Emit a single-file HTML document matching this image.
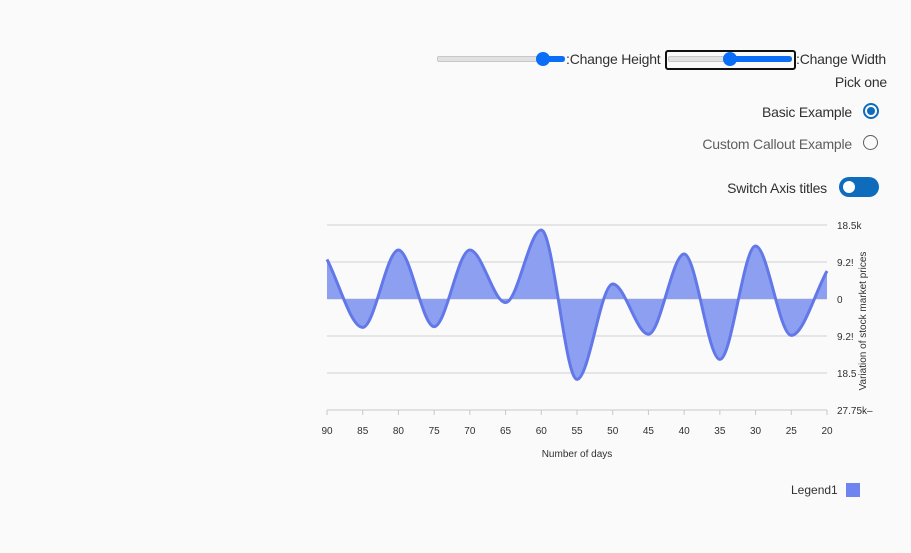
<!DOCTYPE html>
<html><head><meta charset="utf-8">
<style>
body{margin:0;width:911px;height:553px;background:#fafafa;font-family:"Segoe UI","Liberation Sans",sans-serif;color:#323130;position:relative;overflow:hidden}
.abs{position:absolute}
.lbl{font-size:14px;white-space:nowrap;letter-spacing:-0.2px}
.track{position:absolute;height:4px;border-radius:2px;background:#e1e1e1;border:1px solid #c8c8c8}
.fill{position:absolute;height:6px;border-radius:3px;background:#0b6ef6}
.thumb{position:absolute;width:14px;height:14px;border-radius:50%;background:#0b6ef6}
</style></head><body>
<div class="track" style="left:437px;top:56px;width:126px"></div>
<div class="fill" style="left:540px;top:56px;width:25px"></div>
<div class="thumb" style="left:536px;top:52px"></div>
<div class="abs lbl" style="left:566px;top:51px">:Change Height</div>
<div class="abs" style="left:665px;top:50px;width:127px;height:16px;border:2px solid #111;border-radius:3px"></div>
<div class="track" style="left:668px;top:56px;width:122px"></div>
<div class="fill" style="left:728px;top:56px;width:64px"></div>
<div class="thumb" style="left:723px;top:52px"></div>
<div class="abs lbl" style="left:796px;top:51px">:Change Width</div>
<div class="abs lbl" style="right:24px;top:74px">Pick one</div>
<div class="abs lbl" style="right:59px;top:104px">Basic Example</div>
<div class="abs" style="left:863px;top:103px;width:12px;height:12px;border:2px solid #0f6cbd;border-radius:50%"><div style="position:absolute;left:2px;top:2px;width:8px;height:8px;border-radius:50%;background:#0f6cbd"></div></div>
<div class="abs lbl" style="right:59px;top:136px;color:#605e5c">Custom Callout Example</div>
<div class="abs" style="left:863px;top:135px;width:13px;height:13px;border:1.5px solid #605e5c;border-radius:50%"></div>
<div class="abs lbl" style="right:84px;top:180px">Switch Axis titles</div>
<div class="abs" style="left:839px;top:177px;width:40px;height:20px;border-radius:10px;background:#0f6cbd"><div style="position:absolute;left:4px;top:4px;width:12px;height:12px;border-radius:50%;background:#fff"></div></div>

<svg class="abs" style="left:0;top:0" width="911" height="553" id="chart"></svg>
<div class="abs" style="left:791px;top:483px;font-size:12px">Legend1<span style="display:inline-block;width:14px;height:14px;background:#6f84ee;margin-left:8px;vertical-align:-3px"></span></div>

<script>
const xDays = [90,85,80,75,70,65,60,55,50,45,40,35,30,25,20];
const yValues = [9900,-7100,12250,-6900,12250,-900,17250,-20100,3750,-8800,11250,-15100,13250,-9100,7000];
const yTicks = [18500,9250,0,-9250,-18500,-27750];
const yTickLabels = ["18.5k","9.2!","0","9.2!","18.5","27.75k\u2013"];
const xTicks = [90,85,80,75,70,65,60,55,50,45,40,35,30,25,20];

const NS="http://www.w3.org/2000/svg";
const svg=document.getElementById('chart');
const X0=327,X1=827,Y0=225,Y1=410;
const xs=d=>X0+(90-d)/70*(X1-X0);
const ys=v=>Y0+(18500-v)/46250*(Y1-Y0);
function mk(t,a){const e=document.createElementNS(NS,t);for(const k in a)e.setAttribute(k,a[k]);svg.appendChild(e);return e;}

yTicks.forEach((v,i)=>{
  if(i<yTicks.length-1){const l=mk('line',{x1:X0,x2:X1,y1:ys(v),y2:ys(v),stroke:'#d0d0d0','stroke-width':1});
  
  }
  const t=mk('text',{x:837,y:ys(v)+4,'font-size':10,fill:'#323130','font-family':'Liberation Sans, sans-serif'});
  t.textContent=yTickLabels[i];
  
  
});
const ax=mk('line',{x1:X0,x2:X1,y1:Y1,y2:Y1,stroke:'#c8c8c8'});


xTicks.forEach(d=>{
  const tk=mk('line',{x1:xs(d),x2:xs(d),y1:Y1,y2:Y1+5,stroke:'#c8c8c8'});
  
  
  const t=mk('text',{x:xs(d),y:Y1+24,'font-size':10,fill:'#323130','text-anchor':'middle','font-family':'Liberation Sans, sans-serif'});
  t.textContent=d;
  
  
});
const xt=mk('text',{x:577,y:457,'font-size':10,fill:'#323130','text-anchor':'middle','font-family':'Liberation Sans, sans-serif'});
xt.textContent='Number of days';


const yt=mk('text',{x:0,y:0,'font-size':10,fill:'#323130','text-anchor':'middle','font-family':'Liberation Sans, sans-serif',transform:'translate(866,321) rotate(-90)'});
yt.textContent='Variation of stock market prices';



const P=xDays.map((d,i)=>[xs(d),ys(yValues[i])]);
const n=P.length,m=[];
const dl=[];for(let i=0;i<n-1;i++)dl.push((P[i+1][1]-P[i][1])/(P[i+1][0]-P[i][0]));
for(let i=0;i<n;i++){
  if(i==0)m.push(dl[0]);else if(i==n-1)m.push(dl[n-2]);
  else m.push(dl[i-1]*dl[i]<=0?0:(dl[i-1]+dl[i])/2);
}
let d='M'+P[0][0]+','+P[0][1];
for(let i=0;i<n-1;i++){const h=(P[i+1][0]-P[i][0])/3;
  d+=` C${P[i][0]+h},${P[i][1]+m[i]*h} ${P[i+1][0]-h},${P[i+1][1]-m[i+1]*h} ${P[i+1][0]},${P[i+1][1]}`;}
const z=ys(0);
const area=mk('path',{d:d+` L${P[n-1][0]},${z} L${P[0][0]},${z} Z`,fill:'#8c9ff0'});


const line=mk('path',{d:d,fill:'none',stroke:'#6378e8','stroke-width':3});


</script>
</body></html>
